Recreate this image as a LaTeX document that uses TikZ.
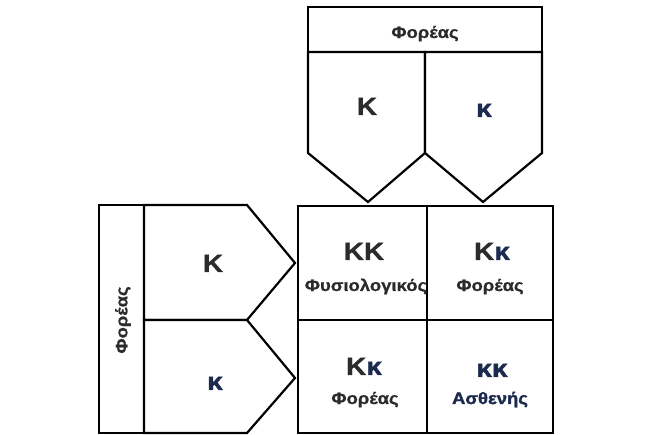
\documentclass[tikz,border=0pt]{standalone}
\usepackage{fontspec}
\setmainfont{Liberation Sans}
\newfontfamily\widefont[FakeStretch=1.12, FakeBold=0.8]{Liberation Sans Bold}
\newfontfamily\heavyfont[FakeStretch=1.12, FakeBold=1.8]{Liberation Sans Bold}
\definecolor{kgrey}{HTML}{2B2B2B}
\definecolor{knavy}{HTML}{1B2A4E}
\tikzset{
  frame/.style={draw=black, line width=2.2pt, fill=white, line join=miter},
  bigK/.style={font=\widefont\fontsize{25}{25}\selectfont, text=kgrey, inner sep=0pt, anchor=base},
  smallk/.style={font=\heavyfont\fontsize{25}{25}\selectfont, text=knavy, inner sep=0pt, anchor=base},
  lbl/.style={font=\widefont\fontsize{16.5}{16.5}\selectfont, text=kgrey, inner sep=0pt, anchor=base},
  lblnavy/.style={font=\heavyfont\fontsize{16.5}{16.5}\selectfont, text=knavy, inner sep=0pt, anchor=base},
}
\newcommand{\smk}{\textcolor{knavy}{\heavyfont κ}}
\begin{document}
\begin{tikzpicture}[x=1pt,y=-1pt]
\useasboundingbox (0,0) rectangle (659,435);
% top parent
\draw[frame] (308,7) rectangle (542,52);
\draw[frame] (308,52) -- (425,52) -- (425,153) -- (368,202) -- (308,153) -- cycle;
\draw[frame] (425,52) -- (542,52) -- (542,153) -- (483,202) -- (425,153) -- cycle;
\node[lbl] (topF) at (425,38) {Φορέας};
\node[bigK] (topK) at (367,115) {Κ};
\node[smallk] (topk) at (484,117) {κ};
% left parent
\draw[frame] (99,205) rectangle (144,433);
\draw[frame] (144,205) -- (247,205) -- (295,263) -- (247,320) -- (144,320) -- cycle;
\draw[frame] (144,320) -- (247,320) -- (295,378) -- (247,433) -- (144,433) -- cycle;
\node[lbl, rotate=90, anchor=center] (leftF) at (123,320) {Φορέας};
\node[bigK] (leftK) at (213,272) {Κ};
\node[smallk] (leftk) at (215,390) {κ};
% grid
\draw[frame] (298,206) rectangle (553,433);
\draw[frame] (427,206) -- (427,433);
\draw[frame] (298,320) -- (553,320);
\node[bigK] (c1g) at (364,260) {ΚΚ};
\node[lbl] (c1t) at (366,291) {Φυσιολογικός};
\node[bigK] (c2g) at (492,260) {Κ\smk};
\node[lbl] (c2t) at (490,291) {Φορέας};
\node[bigK] (c3g) at (364,375) {Κ\smk};
\node[lbl] (c3t) at (365,404) {Φορέας};
\node[smallk] (c4g) at (492,377) {κκ};
\node[lblnavy] (c4t) at (490,404) {Ασθενής};
\end{tikzpicture}
\end{document}
